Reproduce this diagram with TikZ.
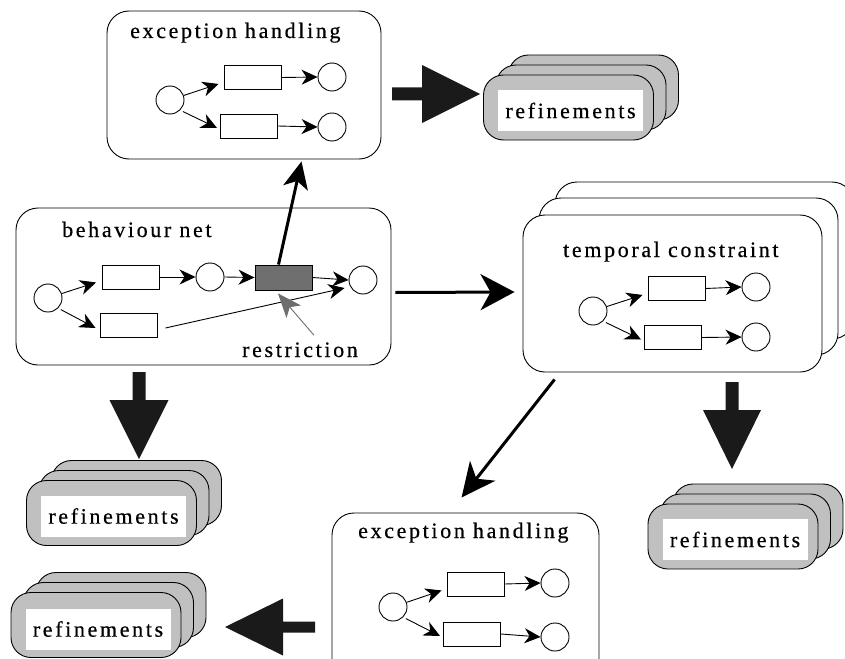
\documentclass[tikz,border=0pt]{standalone}
\usepackage{fontspec}
\setmainfont{Liberation Serif}
\usetikzlibrary{arrows.meta,calc}

\definecolor{refgray}{HTML}{C0C0C0}
\definecolor{blockink}{HTML}{1A1A1A}
\definecolor{restrgray}{HTML}{6E6E6E}
\definecolor{firedgray}{HTML}{6F6F6F}

% spaced serif lettering used for every label
\newfontfamily\spacedserif[LetterSpace=12,FakeBold=0.5]{Liberation Serif}
\newcommand{\spacedtext}{\spacedserif\fontsize{22}{26}\selectfont}

\begin{document}
\begin{tikzpicture}[x=1pt,y=-1pt,
  lbl/.style={font=\spacedtext, inner sep=0pt, anchor=base west},
  container/.style={draw, fill=white, rounded corners=22pt, line width=0.9pt},
  place/.style={draw, circle, minimum size=28pt, inner sep=0pt, line width=0.9pt, fill=white},
  trans/.style={draw, rectangle, minimum width=57pt, minimum height=24pt, inner sep=0pt, line width=0.9pt, fill=white},
  arc/.style={line width=0.9pt, -{Stealth[length=16pt,width=15pt,inset=5pt]}},
  refbox/.style={draw, fill=refgray, rounded corners=20pt, line width=0.9pt,
                 minimum width=170pt, minimum height=65pt},
  reflabel/.style={fill=white, inner sep=0pt, minimum width=145pt, minimum height=41pt,
                   font=\spacedtext},
  flow/.style={line width=3pt},
  blockarrow/.style={fill=blockink}
]
\useasboundingbox (0,0) rectangle (845,658);
\clip (0,0) rectangle (845,658);

% ---------- exception handling (top) ----------
\node[container, minimum width=274pt, minimum height=148pt] (exA) at (244,85) {};
\node[lbl] (exAt) at (130,38) {exception handling};
\node[place] (a1) at (170,100) {};
\node[trans] (at1) at (252.5,77.5) {};
\node[trans] (at2) at (249,126) {};
\node[place] (a2) at (332,77) {};
\node[place] (a3) at (332,127) {};
\draw[arc] (a1) -- ($(at1.south west)+(-5,-6)$);
\draw[arc, shorten <=3pt] (a1.-45) -- ($(at2.west)+(-3,2)$);
\draw[arc] (at1.east) -- (a2.west);
\draw[arc] (at2.east) -- (a3.west);

% ---------- behaviour net ----------
\node[container, minimum width=375pt, minimum height=157pt] (exB) at (203.5,286.5) {};
\node[lbl] (exBt) at (62,237) {behaviour net};
\node[place] (bL) at (48,298) {};
\node[trans] (bt1) at (131,277) {};
\node[place] (bM) at (210,277) {};
\node[trans, fill=firedgray, minimum height=25pt] (bG) at (283.5,277.5) {};
\node[place] (bR) at (363,280) {};
\node[trans] (bt2) at (128.5,325) {};
\draw[arc] (bL) -- ($(bt1.south west)+(-6,-7)$);
\draw[arc, shorten <=3pt] (bL.-45) -- ($(bt2.west)+(-4,3)$);
\draw[arc] (bt1.east) -- (bM.west);
\draw[arc] (bM.east) -- (bG.west);
\draw[arc] (bG.east) -- (bR.west);
\draw[arc] ($(bt2.east)+(8,3)$) -- ($(bR.west)+(-4,8)$);
\node[lbl] (restr) at (242,357) {restriction};
\draw[restrgray, line width=0.9pt, -{Stealth[length=24pt,width=19pt,inset=6pt]}]
  ($(restr.north)+(14,-7)$) -- ($(bG.south)+(-5.5,3)$);

% ---------- temporal constraint (stacked) ----------
\node[container, minimum width=299pt, minimum height=157pt] (exC3) at (704.5,260.5) {};
\node[container, minimum width=299pt, minimum height=157pt] (exC2) at (688.5,276.5) {};
\node[container, minimum width=299pt, minimum height=157pt] (exC) at (672.5,293.5) {};
\node[lbl] (exCt) at (563,257) {temporal constraint};
\node[place] (c1) at (593,311) {};
\node[trans] (ct1) at (676.5,288.5) {};
\node[trans] (ct2) at (673,337.5) {};
\node[place] (c2) at (756,287) {};
\node[place] (c3) at (756,337) {};
\draw[arc] (c1) -- ($(ct1.south west)+(-5,-6)$);
\draw[arc, shorten <=3pt] (c1.-45) -- ($(ct2.west)+(-3,2)$);
\draw[arc] (ct1.east) -- (c2.west);
\draw[arc] (ct2.east) -- (c3.west);

% ---------- exception handling (bottom) ----------
\node[container, minimum width=267pt, minimum height=177pt] (exD) at (465.5,601.5) {};
\node[lbl] (exDt) at (358,538) {exception handling};
\node[place] (d1) at (393,607) {};
\node[trans] (dt1) at (475.5,584) {};
\node[trans] (dt2) at (472,634) {};
\node[place] (d2) at (555,583) {};
\node[place] (d3) at (555,637) {};
\draw[arc] (d1) -- ($(dt1.south west)+(-5,-6)$);
\draw[arc, shorten <=3pt] (d1.-45) -- ($(dt2.west)+(-3,2)$);
\draw[arc] (dt1.east) -- (d2.west);
\draw[arc] (dt2.east) -- (d3.west);

% ---------- flows between the nets ----------
\draw[flow, -{Stealth[length=27pt,width=25pt,inset=7pt]}]
  ($(bG.north)+(-5,0)$) -- ($(exA.south east)+(-80,2)$);
\draw[flow, -{Stealth[length=34pt,width=36pt,inset=10pt]}]
  ($(exB.east)+(4,6)$) -- ($(exC.west)+(-8,-1.5)$);
\draw[flow, -{Stealth[length=34pt,width=32pt,inset=10pt]}]
  ($(exC.south west)+(32,7)$) -- ($(exD.north west)+(130,-15)$);

% ---------- refinement stacks ----------
% top right of the upper exception handling
\node[refbox] (r1c) at (593.5,87.5) {};
\node[refbox] (r1b) at (581,97.5) {};
\node[refbox] (r1a) at (568.5,107.5) {};
\node[reflabel] (r1) at ($(r1a)+(2,3)$) {refinements};
% below the behaviour net
\node[refbox] (r2c) at (136.5,493) {};
\node[refbox] (r2b) at (124,503) {};
\node[refbox] (r2a) at (111.5,513) {};
\node[reflabel] (r2) at ($(r2a)+(2,3)$) {refinements};
% left of the lower exception handling
\node[refbox] (r3c) at (121,605) {};
\node[refbox] (r3b) at (108.5,615) {};
\node[refbox] (r3a) at (96,625) {};
\node[reflabel] (r3) at ($(r3a)+(2,4)$) {refinements};
% below the temporal constraint
\node[refbox] (r4c) at (758,516.5) {};
\node[refbox] (r4b) at (745.5,526.5) {};
\node[refbox] (r4a) at (733,536.5) {};
\node[reflabel] (r4) at ($(r4a)+(2,3)$) {refinements};

% ---------- block arrows to the refinements ----------
\fill[blockarrow] (392,87.5) -- (422,87.5) -- (422,65) -- (480,94) -- (422,123)
  -- (422,100.5) -- (392,100.5) -- cycle;
\fill[blockarrow] (132.5,372) -- (145.5,372) -- (145.5,400) -- (168.5,400) -- (139,459)
  -- (109.5,400) -- (132.5,400) -- cycle;
\fill[blockarrow] (725.5,382) -- (738.5,382) -- (738.5,410) -- (761,410) -- (732,469)
  -- (703,410) -- (725.5,410) -- cycle;
\fill[blockarrow] (315,621.5) -- (315,632.5) -- (283,632.5) -- (283,655.5) -- (225,627)
  -- (283,598.5) -- (283,621.5) -- cycle;
\end{tikzpicture}
\end{document}
